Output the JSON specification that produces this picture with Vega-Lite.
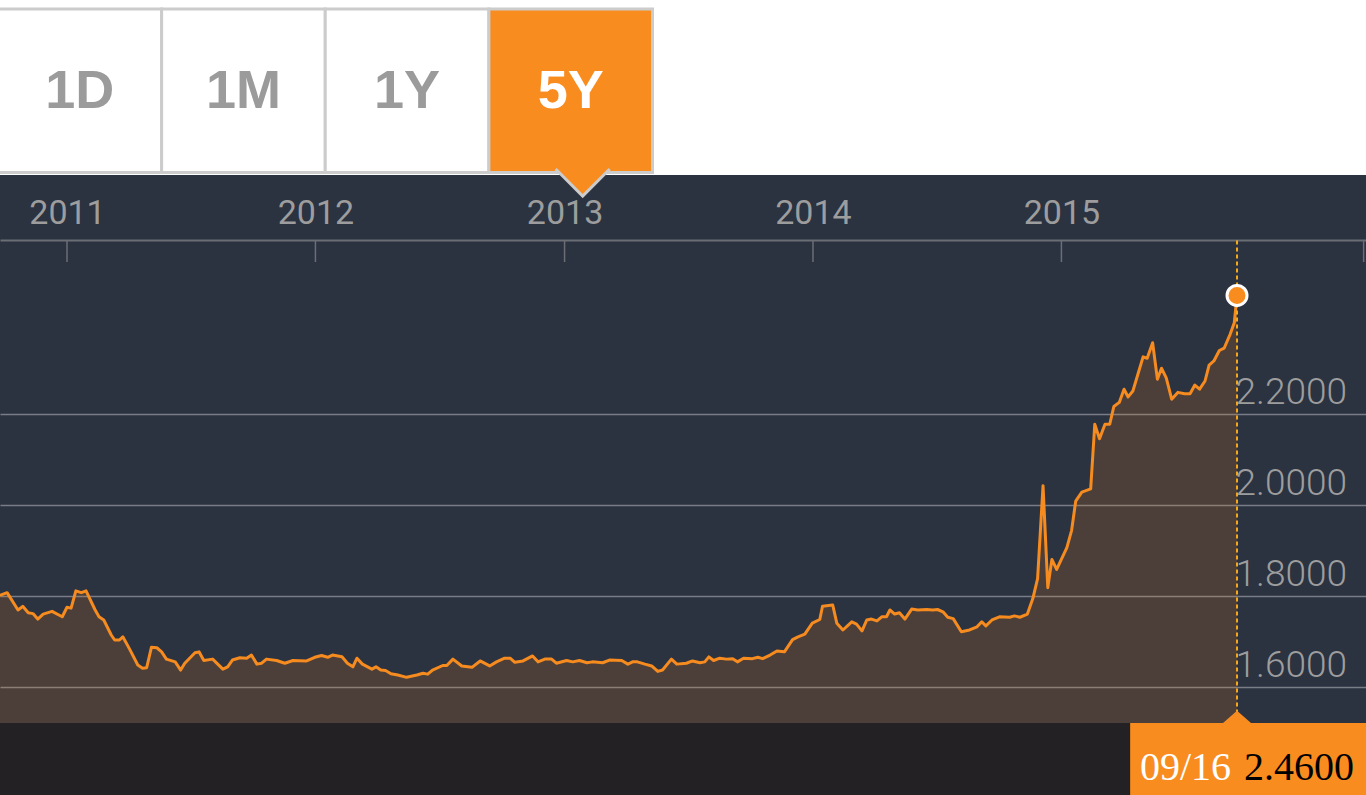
{
  "$schema": "https://vega.github.io/schema/vega-lite/v6.json",
  "width": 1366,
  "height": 795,
  "autosize": {"type": "none"},
  "padding": 0,
  "background": "#ffffff",
  "config": {"view": {"stroke": null, "fill": "#2b3240"}},
  "datasets": {
    "series": [
      {"date": "2010/09/24", "value": 1.801},
      {"date": "2010/10/05", "value": 1.807},
      {"date": "2010/10/21", "value": 1.769},
      {"date": "2010/10/28", "value": 1.777},
      {"date": "2010/11/05", "value": 1.763},
      {"date": "2010/11/12", "value": 1.761},
      {"date": "2010/11/19", "value": 1.749},
      {"date": "2010/11/27", "value": 1.760},
      {"date": "2010/12/10", "value": 1.766},
      {"date": "2010/12/25", "value": 1.754},
      {"date": "2011/01/01", "value": 1.775},
      {"date": "2011/01/07", "value": 1.773},
      {"date": "2011/01/14", "value": 1.811},
      {"date": "2011/01/22", "value": 1.807},
      {"date": "2011/01/29", "value": 1.811},
      {"date": "2011/02/11", "value": 1.770},
      {"date": "2011/02/17", "value": 1.754},
      {"date": "2011/02/24", "value": 1.747},
      {"date": "2011/03/07", "value": 1.714},
      {"date": "2011/03/12", "value": 1.703},
      {"date": "2011/03/19", "value": 1.703},
      {"date": "2011/03/24", "value": 1.710},
      {"date": "2011/04/03", "value": 1.683},
      {"date": "2011/04/15", "value": 1.648},
      {"date": "2011/04/22", "value": 1.641},
      {"date": "2011/04/28", "value": 1.642},
      {"date": "2011/05/05", "value": 1.687},
      {"date": "2011/05/13", "value": 1.686},
      {"date": "2011/05/20", "value": 1.677},
      {"date": "2011/05/27", "value": 1.661},
      {"date": "2011/06/09", "value": 1.655},
      {"date": "2011/06/17", "value": 1.637},
      {"date": "2011/06/23", "value": 1.652},
      {"date": "2011/07/08", "value": 1.675},
      {"date": "2011/07/14", "value": 1.677},
      {"date": "2011/07/21", "value": 1.658},
      {"date": "2011/08/03", "value": 1.661},
      {"date": "2011/08/18", "value": 1.639},
      {"date": "2011/08/25", "value": 1.644},
      {"date": "2011/09/01", "value": 1.659},
      {"date": "2011/09/12", "value": 1.664},
      {"date": "2011/09/22", "value": 1.663},
      {"date": "2011/09/29", "value": 1.670},
      {"date": "2011/10/07", "value": 1.650},
      {"date": "2011/10/14", "value": 1.652},
      {"date": "2011/10/21", "value": 1.661},
      {"date": "2011/11/05", "value": 1.658},
      {"date": "2011/11/17", "value": 1.652},
      {"date": "2011/11/29", "value": 1.658},
      {"date": "2011/12/19", "value": 1.657},
      {"date": "2011/12/31", "value": 1.665},
      {"date": "2012/01/10", "value": 1.669},
      {"date": "2012/01/19", "value": 1.665},
      {"date": "2012/01/26", "value": 1.670},
      {"date": "2012/02/09", "value": 1.666},
      {"date": "2012/02/17", "value": 1.652},
      {"date": "2012/02/25", "value": 1.644},
      {"date": "2012/03/02", "value": 1.663},
      {"date": "2012/03/10", "value": 1.650},
      {"date": "2012/03/24", "value": 1.639},
      {"date": "2012/03/30", "value": 1.644},
      {"date": "2012/04/06", "value": 1.637},
      {"date": "2012/04/13", "value": 1.636},
      {"date": "2012/04/21", "value": 1.629},
      {"date": "2012/05/01", "value": 1.626},
      {"date": "2012/05/14", "value": 1.621},
      {"date": "2012/05/29", "value": 1.626},
      {"date": "2012/06/07", "value": 1.630},
      {"date": "2012/06/14", "value": 1.628},
      {"date": "2012/06/21", "value": 1.637},
      {"date": "2012/07/06", "value": 1.647},
      {"date": "2012/07/12", "value": 1.647},
      {"date": "2012/07/21", "value": 1.661},
      {"date": "2012/08/03", "value": 1.646},
      {"date": "2012/08/18", "value": 1.643},
      {"date": "2012/08/30", "value": 1.657},
      {"date": "2012/09/13", "value": 1.646},
      {"date": "2012/09/23", "value": 1.655},
      {"date": "2012/10/05", "value": 1.663},
      {"date": "2012/10/13", "value": 1.663},
      {"date": "2012/10/20", "value": 1.654},
      {"date": "2012/11/01", "value": 1.657},
      {"date": "2012/11/15", "value": 1.668},
      {"date": "2012/11/23", "value": 1.655},
      {"date": "2012/12/03", "value": 1.661},
      {"date": "2012/12/13", "value": 1.661},
      {"date": "2012/12/20", "value": 1.652},
      {"date": "2013/01/04", "value": 1.658},
      {"date": "2013/01/13", "value": 1.655},
      {"date": "2013/01/23", "value": 1.658},
      {"date": "2013/02/03", "value": 1.653},
      {"date": "2013/02/11", "value": 1.655},
      {"date": "2013/02/26", "value": 1.653},
      {"date": "2013/03/08", "value": 1.659},
      {"date": "2013/03/26", "value": 1.658},
      {"date": "2013/04/04", "value": 1.650},
      {"date": "2013/04/11", "value": 1.655},
      {"date": "2013/04/18", "value": 1.655},
      {"date": "2013/04/29", "value": 1.650},
      {"date": "2013/05/09", "value": 1.646},
      {"date": "2013/05/18", "value": 1.634},
      {"date": "2013/05/25", "value": 1.637},
      {"date": "2013/06/07", "value": 1.661},
      {"date": "2013/06/15", "value": 1.650},
      {"date": "2013/06/29", "value": 1.652},
      {"date": "2013/07/08", "value": 1.657},
      {"date": "2013/07/19", "value": 1.653},
      {"date": "2013/07/26", "value": 1.655},
      {"date": "2013/08/01", "value": 1.666},
      {"date": "2013/08/08", "value": 1.658},
      {"date": "2013/08/17", "value": 1.663},
      {"date": "2013/08/27", "value": 1.661},
      {"date": "2013/09/05", "value": 1.662},
      {"date": "2013/09/12", "value": 1.655},
      {"date": "2013/09/21", "value": 1.663},
      {"date": "2013/10/04", "value": 1.662},
      {"date": "2013/10/12", "value": 1.665},
      {"date": "2013/10/19", "value": 1.662},
      {"date": "2013/10/30", "value": 1.670},
      {"date": "2013/11/09", "value": 1.679},
      {"date": "2013/11/20", "value": 1.677},
      {"date": "2013/12/02", "value": 1.704},
      {"date": "2013/12/10", "value": 1.710},
      {"date": "2013/12/20", "value": 1.716},
      {"date": "2013/12/31", "value": 1.740},
      {"date": "2014/01/11", "value": 1.748},
      {"date": "2014/01/15", "value": 1.777},
      {"date": "2014/01/30", "value": 1.780},
      {"date": "2014/02/05", "value": 1.740},
      {"date": "2014/02/14", "value": 1.725},
      {"date": "2014/02/27", "value": 1.743},
      {"date": "2014/03/06", "value": 1.738},
      {"date": "2014/03/14", "value": 1.723},
      {"date": "2014/03/21", "value": 1.747},
      {"date": "2014/03/28", "value": 1.749},
      {"date": "2014/04/05", "value": 1.745},
      {"date": "2014/04/12", "value": 1.754},
      {"date": "2014/04/19", "value": 1.754},
      {"date": "2014/04/24", "value": 1.769},
      {"date": "2014/05/01", "value": 1.760},
      {"date": "2014/05/08", "value": 1.763},
      {"date": "2014/05/16", "value": 1.749},
      {"date": "2014/05/26", "value": 1.771},
      {"date": "2014/06/04", "value": 1.769},
      {"date": "2014/06/17", "value": 1.770},
      {"date": "2014/06/26", "value": 1.769},
      {"date": "2014/07/03", "value": 1.770},
      {"date": "2014/07/11", "value": 1.765},
      {"date": "2014/07/18", "value": 1.753},
      {"date": "2014/07/26", "value": 1.750},
      {"date": "2014/08/07", "value": 1.721},
      {"date": "2014/08/19", "value": 1.725},
      {"date": "2014/08/30", "value": 1.732},
      {"date": "2014/09/06", "value": 1.743},
      {"date": "2014/09/12", "value": 1.734},
      {"date": "2014/09/21", "value": 1.747},
      {"date": "2014/10/02", "value": 1.754},
      {"date": "2014/10/17", "value": 1.753},
      {"date": "2014/10/24", "value": 1.756},
      {"date": "2014/11/01", "value": 1.753},
      {"date": "2014/11/12", "value": 1.760},
      {"date": "2014/11/20", "value": 1.794},
      {"date": "2014/11/27", "value": 1.838},
      {"date": "2014/12/05", "value": 2.042},
      {"date": "2014/12/12", "value": 1.818},
      {"date": "2014/12/18", "value": 1.880},
      {"date": "2014/12/25", "value": 1.858},
      {"date": "2015/01/09", "value": 1.906},
      {"date": "2015/01/16", "value": 1.944},
      {"date": "2015/01/22", "value": 2.008},
      {"date": "2015/01/31", "value": 2.028},
      {"date": "2015/02/13", "value": 2.035},
      {"date": "2015/02/19", "value": 2.177},
      {"date": "2015/02/26", "value": 2.145},
      {"date": "2015/03/06", "value": 2.177},
      {"date": "2015/03/13", "value": 2.177},
      {"date": "2015/03/19", "value": 2.216},
      {"date": "2015/03/27", "value": 2.225},
      {"date": "2015/04/03", "value": 2.254},
      {"date": "2015/04/09", "value": 2.237},
      {"date": "2015/04/16", "value": 2.250},
      {"date": "2015/05/01", "value": 2.325},
      {"date": "2015/05/07", "value": 2.322},
      {"date": "2015/05/15", "value": 2.356},
      {"date": "2015/05/22", "value": 2.276},
      {"date": "2015/05/28", "value": 2.300},
      {"date": "2015/06/04", "value": 2.279},
      {"date": "2015/06/12", "value": 2.232},
      {"date": "2015/06/21", "value": 2.247},
      {"date": "2015/07/01", "value": 2.244},
      {"date": "2015/07/09", "value": 2.244},
      {"date": "2015/07/16", "value": 2.263},
      {"date": "2015/07/23", "value": 2.254},
      {"date": "2015/07/31", "value": 2.272},
      {"date": "2015/08/06", "value": 2.307},
      {"date": "2015/08/13", "value": 2.316},
      {"date": "2015/08/21", "value": 2.339},
      {"date": "2015/08/28", "value": 2.344},
      {"date": "2015/09/06", "value": 2.375},
      {"date": "2015/09/12", "value": 2.400},
      {"date": "2015/09/16", "value": 2.460}
    ],
    "last": [{"date": "2015/09/16", "value": 2.46}],
    "ticks": [
      {"date": "2011/01/01"},
      {"date": "2012/01/01"},
      {"date": "2013/01/01"},
      {"date": "2014/01/01"},
      {"date": "2015/01/01"},
      {"date": "2016/03/20"}
    ],
    "tabs": [
      {"tab": "1D", "state": "off"},
      {"tab": "1M", "state": "off"},
      {"tab": "1Y", "state": "off"},
      {"tab": "5Y", "state": "on"}
    ],
    "one": [{}]
  },
  "layer": [
    {
      "layer": [
        {
          "data": {"name": "series"},
          "mark": {"type": "area", "color": "#f68b1f", "opacity": 0.16},
          "encoding": {
            "x": {
              "field": "date",
              "type": "temporal",
              "scale": {"domain": [{"year": 2010, "month": 9, "date": 24, "hours": 13, "minutes": 26}, {"year": 2016, "month": 3, "date": 23, "hours": 12}]},
              "axis": {
                "orient": "top",
                "offset": -240,
                "values": [{"year": 2011, "month": 1, "date": 1}, {"year": 2012, "month": 1, "date": 1}, {"year": 2013, "month": 1, "date": 1}, {"year": 2014, "month": 1, "date": 1}, {"year": 2015, "month": 1, "date": 1}],
                "format": "%Y",
                "title": null,
                "grid": false,
                "ticks": false,
                "tickSize": 0,
                "domain": true,
                "domainColor": "#6b6e75",
                "domainWidth": 2,
                "labelColor": "#9d9d9d",
                "labelFont": "Roboto",
                "labelFontSize": 34,
                "labelBaseline": "alphabetic",
                "labelPadding": 17,
                "labelFlush": false,
                "labelOverlap": false
              }
            },
            "y": {
              "field": "value",
              "type": "quantitative",
              "scale": {"domain": [1.3625, 3.109], "nice": false, "zero": false},
              "axis": {
                "orient": "right",
                "offset": -131,
                "values": [1.6, 1.8, 2.0, 2.2],
                "format": ".4f",
                "title": null,
                "domain": false,
                "ticks": false,
                "tickSize": 0,
                "grid": true,
                "gridColor": "#ffffff",
                "gridOpacity": 0.37,
                "gridWidth": 1.5,
                "labelColor": "#9d9d9d",
                "labelFont": "Roboto",
                "labelFontWeight": 300,
                "labelFontSize": 37,
                "labelAlign": "left",
                "labelBaseline": "alphabetic",
                "labelOffset": -10.5,
                "labelPadding": 0
              }
            },
            "y2": {"datum": 1.5207}
          }
        },
        {
          "data": {"name": "one"},
          "mark": {"type": "rect", "color": "#ffffff"},
          "encoding": {
            "x": {"datum": {"year": 2010, "month": 1, "date": 1}, "type": "temporal"},
            "x2": {"datum": {"year": 2017, "month": 1, "date": 1}},
            "y": {"datum": 3.4, "type": "quantitative"},
            "y2": {"datum": 2.7246}
          }
        },
        {
          "data": {"name": "series"},
          "mark": {"type": "line", "color": "#f68b1f", "strokeWidth": 3, "strokeJoin": "round"},
          "encoding": {
            "x": {"field": "date", "type": "temporal"},
            "y": {"field": "value", "type": "quantitative"}
          }
        },
        {
          "data": {"name": "one"},
          "mark": {"type": "rect", "color": "#242124"},
          "encoding": {
            "x": {"datum": {"year": 2010, "month": 1, "date": 1}, "type": "temporal"},
            "x2": {"datum": {"year": 2017, "month": 1, "date": 1}},
            "y": {"datum": 1.5207, "type": "quantitative"},
            "y2": {"datum": 1.2}
          }
        },
        {
          "data": {"name": "ticks"},
          "mark": {"type": "rule", "color": "#6b6e75", "strokeWidth": 1.5},
          "encoding": {
            "x": {"field": "date", "type": "temporal"},
            "y": {"datum": 2.5807, "type": "quantitative"},
            "y2": {"datum": 2.5334}
          }
        },
        {
          "data": {"name": "last"},
          "mark": {"type": "rule", "color": "#f6a91b", "strokeWidth": 2, "strokeDash": [4, 3]},
          "encoding": {
            "x": {"field": "date", "type": "temporal"},
            "y": {"datum": 2.5807, "type": "quantitative"},
            "y2": {"datum": 1.5207}
          }
        },
        {
          "data": {"name": "last"},
          "mark": {"type": "point", "filled": true, "fill": "#f98c1f", "stroke": "#ffffff", "strokeWidth": 3, "size": 400, "opacity": 1},
          "encoding": {
            "x": {"field": "date", "type": "temporal"},
            "y": {"field": "value", "type": "quantitative"}
          }
        },
        {
          "data": {"name": "one"},
          "mark": {"type": "rect", "color": "#f98c1f"},
          "encoding": {
            "x": {"datum": {"year": 2015, "month": 4, "date": 12}, "type": "temporal"},
            "x2": {"datum": {"year": 2017, "month": 1, "date": 1}},
            "y": {"datum": 1.5207, "type": "quantitative"},
            "y2": {"datum": 1.2}
          }
        },
        {
          "data": {"name": "last"},
          "mark": {"type": "point", "shape": "M-1,0L0,-0.88L1,0Z", "size": 784, "filled": true, "color": "#f98c1f", "opacity": 1},
          "encoding": {
            "x": {"field": "date", "type": "temporal"},
            "y": {"datum": 1.5207, "type": "quantitative"}
          }
        },
        {
          "data": {"name": "last"},
          "mark": {"type": "text", "align": "right", "baseline": "alphabetic", "dx": -6, "font": "Liberation Serif", "fontSize": 40, "color": "#ffffff"},
          "encoding": {
            "x": {"field": "date", "type": "temporal"},
            "y": {"datum": 1.3955, "type": "quantitative"},
            "text": {"field": "date", "type": "temporal", "format": "%m/%d"}
          }
        },
        {
          "data": {"name": "last"},
          "mark": {"type": "text", "align": "left", "baseline": "alphabetic", "dx": 7, "font": "Liberation Serif", "fontSize": 40, "color": "#000000"},
          "encoding": {
            "x": {"field": "date", "type": "temporal"},
            "y": {"datum": 1.3955, "type": "quantitative"},
            "text": {"field": "value", "type": "quantitative", "format": ".4f"}
          }
        }
      ]
    },
    {
      "data": {"name": "tabs"},
      "layer": [
        {
          "mark": {"type": "rect", "stroke": "#cccccc", "strokeWidth": 3},
          "encoding": {
            "x": {"field": "tab", "type": "nominal", "sort": null, "scale": {"type": "band", "domain": ["1D", "1M", "1Y", "5Y"], "range": [-2, 652.5], "paddingInner": 0, "paddingOuter": 0}, "axis": null},
            "y": {"datum": 3.0892, "type": "quantitative"},
            "y2": {"datum": 2.7301},
            "fill": {"condition": {"test": "datum.state === 'on'", "value": "#f98c1f"}, "value": "#ffffff"}
          }
        },
        {
          "transform": [{"filter": "datum.state === 'on'"}],
          "mark": {"type": "point", "shape": "M-1,0L0,1L1,0Z", "size": 2916, "filled": true, "color": "#f98c1f", "opacity": 1, "xOffset": 12},
          "encoding": {
            "x": {"field": "tab", "type": "nominal"},
            "y": {"datum": 2.7377, "type": "quantitative"}
          }
        },
        {
          "transform": [{"filter": "datum.state === 'on'"}],
          "mark": {"type": "point", "shape": "M-1,0L0,1L1,0", "size": 2916, "filled": false, "stroke": "#cccccc", "strokeWidth": 3, "fill": null, "opacity": 1, "xOffset": 12},
          "encoding": {
            "x": {"field": "tab", "type": "nominal"},
            "y": {"datum": 2.7377, "type": "quantitative"}
          }
        },
        {
          "mark": {"type": "text", "font": "Liberation Sans", "fontWeight": "bold", "fontSize": 54, "baseline": "alphabetic", "align": "center"},
          "encoding": {
            "x": {"field": "tab", "type": "nominal"},
            "y": {"datum": 2.8718, "type": "quantitative"},
            "text": {"field": "tab", "type": "nominal"},
            "color": {"condition": {"test": "datum.state === 'on'", "value": "#ffffff"}, "value": "#9b9b9b"}
          }
        }
      ]
    }
  ],
  "resolve": {"scale": {"x": "independent"}}
}
